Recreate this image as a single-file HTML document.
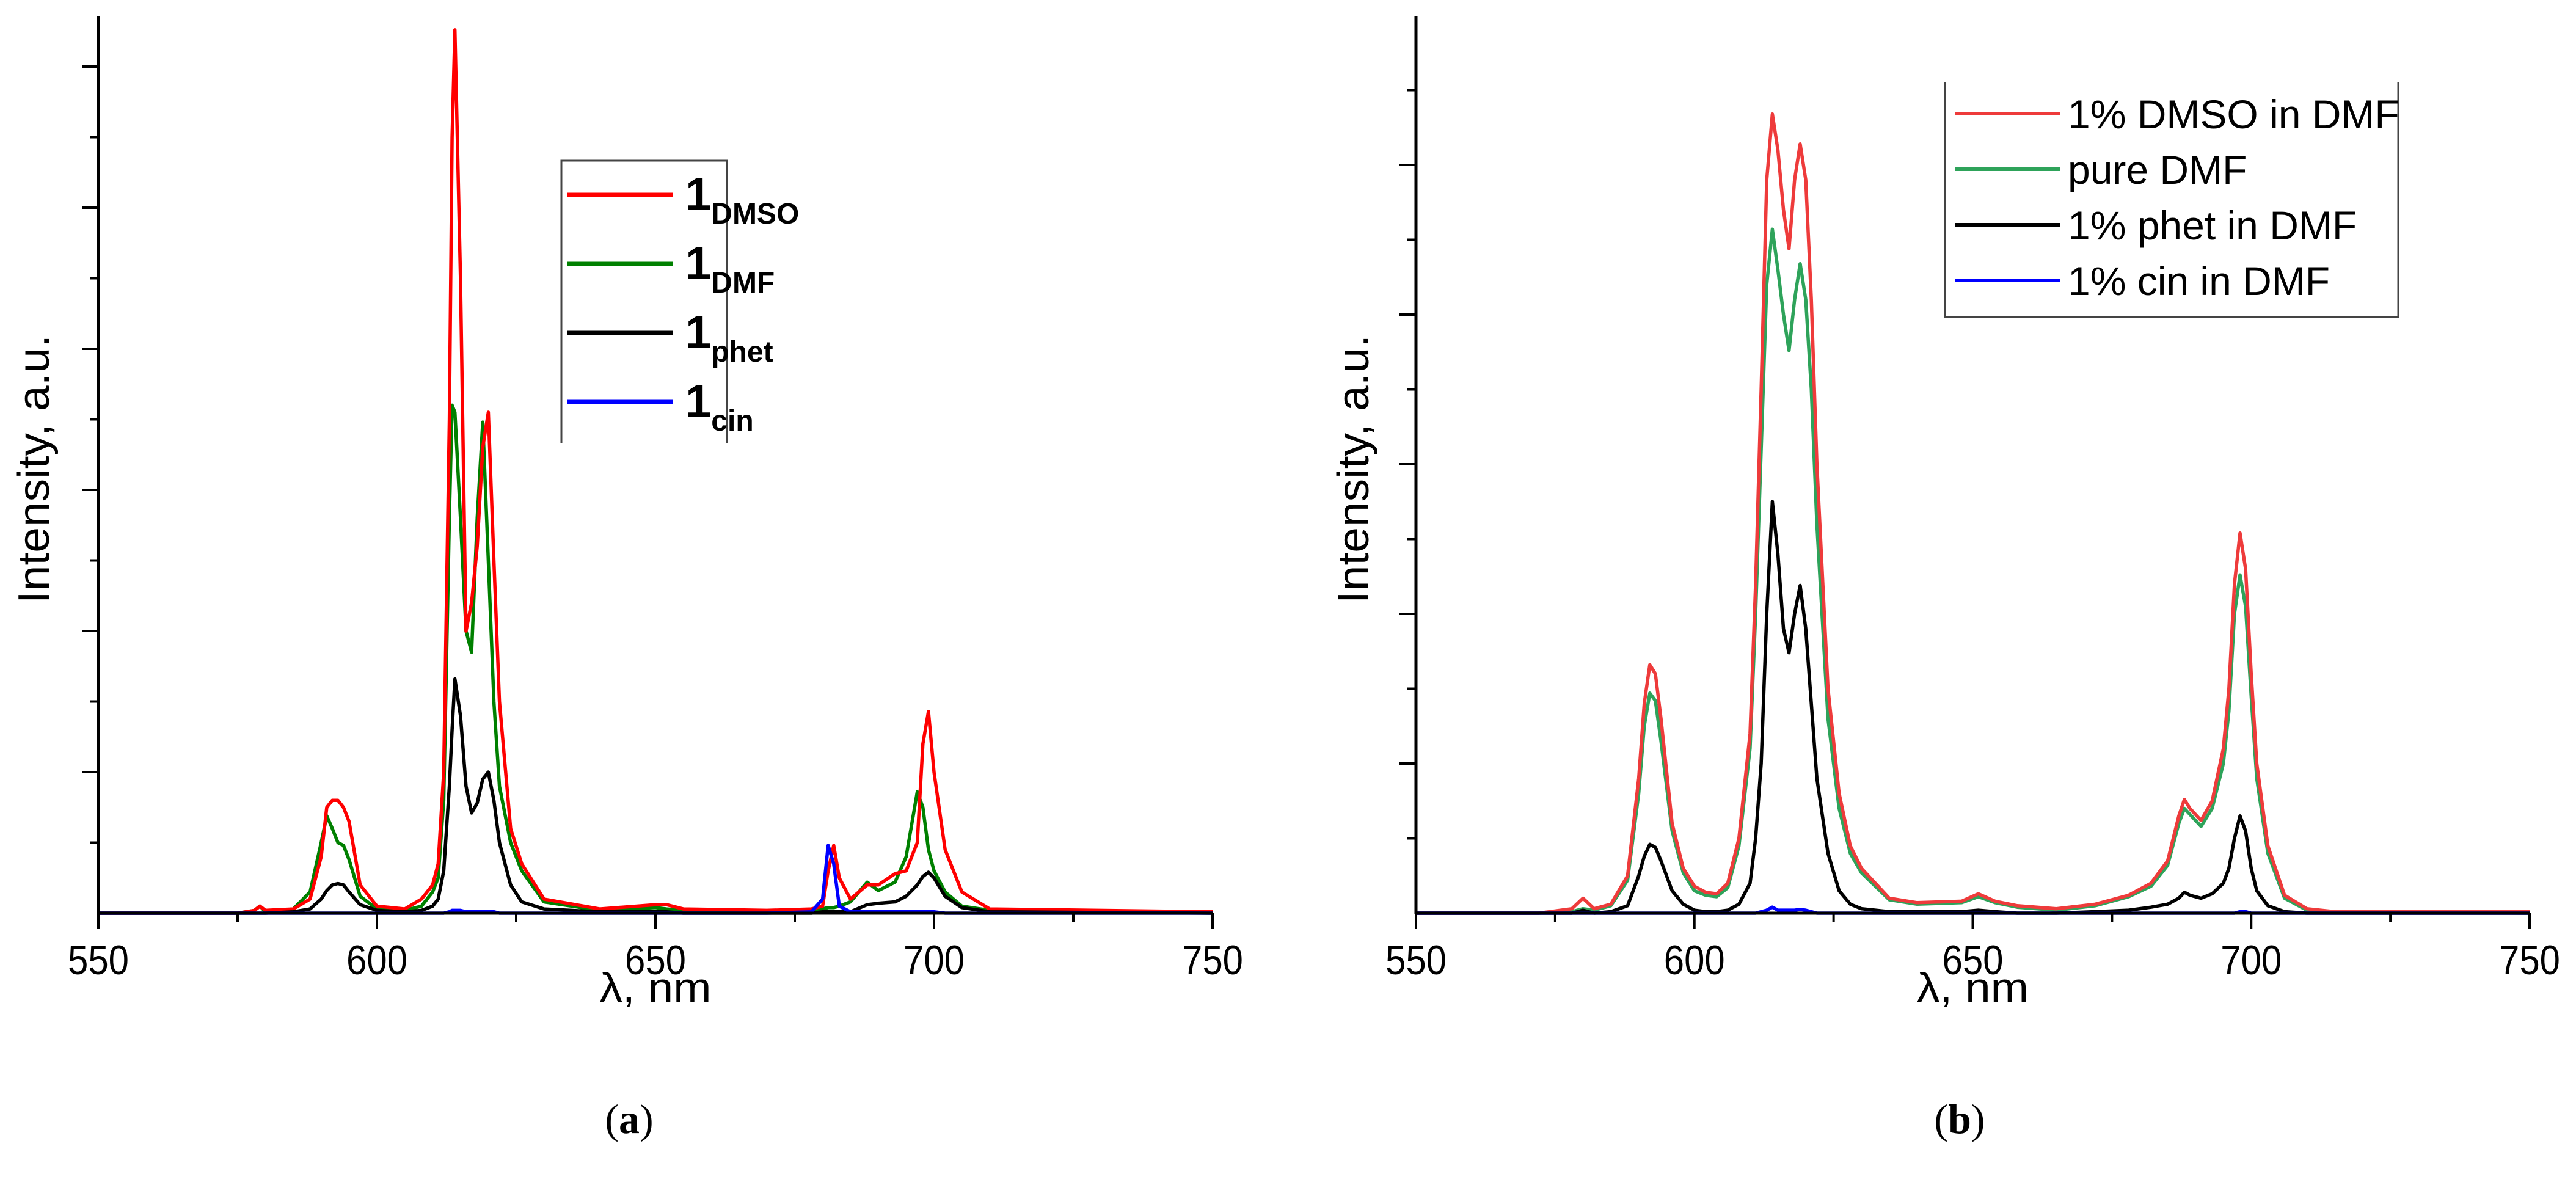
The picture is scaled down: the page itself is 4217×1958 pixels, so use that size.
<!DOCTYPE html>
<html><head><meta charset="utf-8"><style>
html,body{margin:0;padding:0;background:#fff;}
svg{display:block;font-family:"Liberation Sans",sans-serif;}
</style></head><body>
<svg id="fig" width="4217" height="1958" viewBox="0 0 4217 1958" xmlns="http://www.w3.org/2000/svg">
<rect width="4217" height="1958" fill="#fff"/>
<text x="1030" y="1855" font-family="Liberation Serif,serif" font-size="68" text-anchor="middle">(<tspan font-weight="bold">a</tspan>)</text>
<text x="3208" y="1855" font-family="Liberation Serif,serif" font-size="68" text-anchor="middle">(<tspan font-weight="bold">b</tspan>)</text>
</svg>
<script>
// ---- Panel (a) data ----
const wlA = [550,575,578,579,580,585,588,590,591,592,593,594,595,597,600,605,608,610,611,612,613,613.5,614,615,616,617,618,619,620,621,622,624,626,630,640,650,652,655,670,678,680,681,682,683,685,688,690,693,695,697,698,699,700,702,705,710,750];
const redA = [0,0,0.02,0.05,0.02,0.03,0.1,0.4,0.75,0.8,0.8,0.75,0.65,0.2,0.05,0.03,0.1,0.2,0.35,1.0,3.5,5.5,6.26,4.5,2.0,2.2,2.6,3.3,3.55,2.5,1.5,0.6,0.35,0.1,0.03,0.06,0.06,0.03,0.02,0.03,0.05,0.3,0.48,0.25,0.1,0.2,0.2,0.28,0.3,0.5,1.2,1.43,1.0,0.45,0.15,0.03,0.01];
const greenA = [0,0,0.02,0.05,0.01,0.03,0.15,0.5,0.69,0.6,0.5,0.48,0.38,0.12,0.03,0.02,0.05,0.15,0.25,0.8,2.8,3.6,3.55,2.8,2.0,1.85,2.8,3.48,2.5,1.5,0.9,0.5,0.3,0.08,0.02,0.04,0.03,0.02,0.01,0.02,0.03,0.04,0.04,0.05,0.08,0.22,0.16,0.22,0.4,0.86,0.75,0.45,0.3,0.15,0.05,0.02,0];
const blackA = [0,0,0,0,0,0.01,0.03,0.1,0.16,0.2,0.21,0.2,0.15,0.06,0.02,0.01,0.02,0.05,0.1,0.3,0.9,1.3,1.66,1.4,0.9,0.71,0.78,0.95,1.0,0.8,0.5,0.2,0.08,0.03,0.01,0.01,0.01,0,0,0,0.01,0.01,0.01,0.01,0.01,0.06,0.07,0.08,0.12,0.2,0.26,0.29,0.25,0.12,0.04,0.01,0];
const blueA = [0,0,0,0,0,0,0,0,0,0,0,0,0,0,0,0,0,0,0,0,0.01,0.02,0.02,0.02,0.01,0.01,0.01,0.01,0.01,0.01,0,0,0,0,0,0,0,0,0,0.01,0.1,0.48,0.35,0.05,0.01,0.01,0.01,0.01,0.01,0.01,0.01,0.01,0.01,0,0,0,0];
// ---- Panel (b) data ----
const wlB = [550,572,578,580,582,585,588,590,591,592,593,594,596,598,600,602,604,606,608,610,611,612,613,614,615,616,617,618,619,620,621,622,624,626,628,630,635,640,648,651,654,658,665,672,678,682,685,687,688,689,691,693,695,696,697,698,699,700,701,703,706,710,715,750];
const redB = [0,0,0.03,0.1,0.03,0.06,0.25,0.9,1.4,1.66,1.6,1.3,0.6,0.3,0.18,0.14,0.13,0.2,0.5,1.2,2.2,3.5,4.9,5.34,5.1,4.7,4.44,4.9,5.14,4.9,4.1,3.0,1.5,0.8,0.45,0.3,0.1,0.07,0.08,0.13,0.08,0.05,0.03,0.06,0.12,0.2,0.35,0.65,0.76,0.7,0.62,0.75,1.1,1.5,2.2,2.54,2.3,1.6,1.0,0.45,0.12,0.03,0.01,0.01];
const greenB = [0,0,0.01,0.03,0.02,0.05,0.22,0.8,1.25,1.47,1.42,1.15,0.55,0.27,0.15,0.12,0.11,0.17,0.45,1.1,2.0,3.1,4.2,4.57,4.3,4.0,3.76,4.1,4.34,4.1,3.5,2.6,1.3,0.7,0.4,0.27,0.09,0.06,0.07,0.11,0.07,0.04,0.02,0.05,0.11,0.18,0.32,0.6,0.7,0.66,0.58,0.7,1.0,1.35,2.0,2.26,2.05,1.45,0.9,0.4,0.1,0.02,0.01,0];
const blackB = [0,0,0,0.02,0,0.01,0.05,0.25,0.38,0.46,0.44,0.35,0.15,0.06,0.02,0.01,0.01,0.02,0.06,0.2,0.5,1.0,2.0,2.75,2.4,1.9,1.74,2.0,2.19,1.9,1.4,0.9,0.4,0.15,0.06,0.03,0.01,0.01,0.01,0.02,0.01,0,0,0.01,0.02,0.04,0.06,0.1,0.14,0.12,0.1,0.13,0.2,0.3,0.5,0.65,0.55,0.3,0.15,0.05,0.01,0,0,0];
const blueB = [0,0,0,0,0,0,0,0,0,0,0,0,0,0,0,0,0,0,0,0,0,0.01,0.02,0.04,0.02,0.02,0.02,0.02,0.025,0.02,0.01,0,0,0,0,0,0,0,0,0,0,0,0,0,0,0,0,0,0,0,0,0,0,0,0,0.01,0.01,0,0,0,0,0,0,0];
const xTicks = [550,600,650,700,750];

const NS = "http://www.w3.org/2000/svg";
const svg = document.getElementById('fig');
function mk(tag, attrs, parent){const e=document.createElementNS(NS,tag);for(const k in attrs)e.setAttribute(k,attrs[k]);(parent||svg).appendChild(e);return e;}

function panel(cfg){
  const g = mk('g',{});
  
  
  const x = v => cfg.x0 + (v-550)/200*(cfg.x1-cfg.x0);
  const y = v => cfg.yb - v*cfg.unit;
  cfg.series.forEach(s=>{
    const pts = cfg.wl.map((w,i)=>x(w).toFixed(1)+','+y(s.vals[i]).toFixed(1)).join(' ');
    const p = mk('polyline',{points:pts,fill:'none',stroke:s.color,'stroke-width':5.5,'stroke-linejoin':'round'},g);
    
    
  });
  const ax = mk('g',{},g);
  
  
  mk('line',{x1:cfg.x0,y1:cfg.yb,x2:cfg.x1,y2:cfg.yb,stroke:'#000','stroke-width':5},ax);
  mk('line',{x1:cfg.x0,y1:cfg.yb+2,x2:cfg.x0,y2:cfg.ytop,stroke:'#000','stroke-width':5},ax);
  for(let v=550; v<=750; v+=25){
    const major = (v%50===0);
    mk('line',{x1:x(v),y1:cfg.yb,x2:x(v),y2:cfg.yb+(major?26:14),stroke:'#000','stroke-width':4},ax);
  }
  xTicks.forEach(v=>{
    const t = mk('text',{x:x(v),y:cfg.yb+100,'font-size':68,'text-anchor':'middle',textLength:100,lengthAdjust:'spacingAndGlyphs'},ax);
    t.textContent = v;
    
    
  });
  for(let k=1; ; k++){
    const yy = cfg.yb - k*cfg.unit/2;
    if(yy < cfg.ytop+5) break;
    const major = k%2===0;
    mk('line',{x1:cfg.x0,y1:yy,x2:cfg.x0-(major?27:14),y2:yy,stroke:'#000','stroke-width':4},ax);
  }
  const xl = mk('text',{x:(cfg.x0+cfg.x1)/2,y:1640,'font-size':68,'text-anchor':'middle',textLength:183,lengthAdjust:'spacingAndGlyphs'},ax);
  xl.textContent = 'λ, nm';
  
  
  const yl = mk('text',{x:0,y:0,'font-size':72,'text-anchor':'middle',textLength:440,lengthAdjust:'spacingAndGlyphs',transform:`translate(${cfg.ylx},768) rotate(-90)`},ax);
  yl.textContent = 'Intensity, a.u.';
  
  
  return g;
}

panel({name:'panel-a-chart',x0:161,x1:1985,yb:1495,ytop:27,unit:231,ylx:80,wl:wlA,series:[
  {id:'line-1-dmf',color:'#008000',vals:greenA},
  {id:'line-1-dmso',color:'#ff0000',vals:redA},
  {id:'line-1-phet',color:'#000000',vals:blackA},
  {id:'line-1-cin',color:'#0000ff',vals:blueA}]});
panel({name:'panel-b-chart',x0:2318,x1:4141,yb:1495,ytop:27,unit:245,ylx:2240,wl:wlB,series:[
  {id:'line-pure-dmf',color:'#2ea35a',vals:greenB},
  {id:'line-1pct-dmso',color:'#ee3b3b',vals:redB},
  {id:'line-1pct-phet',color:'#000000',vals:blackB},
  {id:'line-1pct-cin',color:'#0000ff',vals:blueB}]});

// Legend (a)
const legA = mk('g',{});


mk('path',{d:'M919,725 V263 H1190 V725',fill:'#fff',stroke:'#444','stroke-width':3},legA);
const itemsA = [['#ff0000','DMSO'],['#008000','DMF'],['#000000','phet'],['#0000ff','cin']];
itemsA.forEach((it,i)=>{
  const yy = 319 + i*113;
  const ent = mk('g',{},legA);
  
  
  mk('line',{x1:928,y1:yy,x2:1102,y2:yy,stroke:it[0],'stroke-width':7},ent);
  const t = mk('text',{x:1122,y:yy+25,'font-size':76,'font-weight':'bold'},ent);
  t.textContent = '1';
  const s = mk('tspan',{'font-size':48,dy:22},t);
  s.textContent = it[1];
});
// Legend (b)
const legB = mk('g',{});


mk('path',{d:'M3184,135 V519 H3926 V135',fill:'none',stroke:'#444','stroke-width':3},legB);
const itemsB = [['#ee3b3b','1% DMSO in DMF'],['#2ea35a','pure DMF'],['#000000','1% phet in DMF'],['#0000ff','1% cin in DMF']];
itemsB.forEach((it,i)=>{
  const yy = 186 + i*91;
  const ent = mk('g',{},legB);
  
  
  mk('line',{x1:3200,y1:yy,x2:3372,y2:yy,stroke:it[0],'stroke-width':6},ent);
  const t = mk('text',{x:3385,y:yy+24,'font-size':66},ent);
  t.textContent = it[1];
});
</script>
</body></html>
